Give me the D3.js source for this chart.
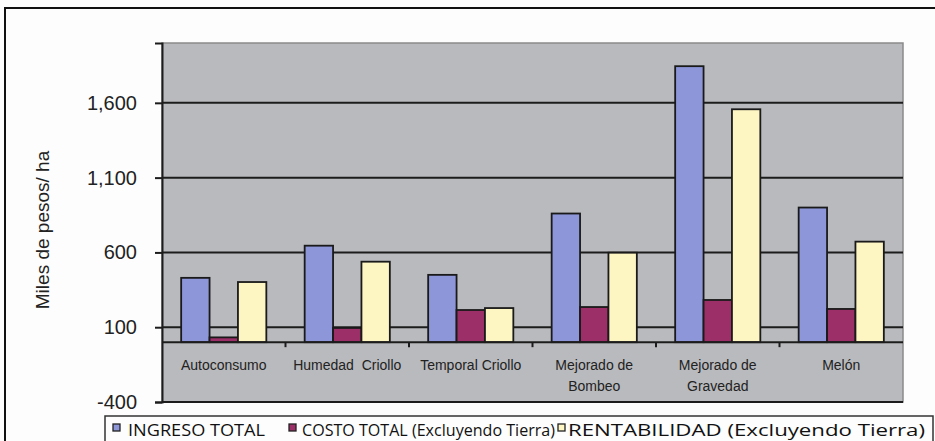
<!DOCTYPE html>
<html lang="es">
<head>
    <meta charset="UTF-8">
    <title>Ingreso, costo y rentabilidad</title>
    <script src="https://d3js.org/d3.v7.min.js"></script>
    <style>
        body {
            margin: 0;
            padding: 0;
            background: #fdfdfd;
            overflow: hidden;
        }
        svg {
            display: block;
        }
        .tick-label {
            font-family: "Liberation Sans", Arial, sans-serif;
            font-size: 20px;
            fill: #222;
        }
        .cat-label {
            font-family: "Liberation Sans", Arial, sans-serif;
            font-size: 14px;
            fill: #222;
        }
        .legend-text {
            font-family: "Open Sans", "DejaVu Sans", sans-serif;
            font-size: 16px;
            fill: #111;
        }
    </style>
</head>
<body>
    <svg id="chart"></svg>

    <script>
        // categories (lines of each label)
        const categories = ["Autoconsumo", "Humedad  Criollo", "Temporal Criollo",
            "Mejorado de Bombeo", "Mejorado de Gravedad", "Melón"];
        const categoryLines = [["Autoconsumo"], ["Humedad  Criollo"], ["Temporal Criollo"],
            ["Mejorado de", "Bombeo"], ["Mejorado de", "Gravedad"], ["Melón"]];

        const seriesNames = ["INGRESO TOTAL", "COSTO TOTAL (Excluyendo Tierra)", "RENTABILIDAD (Excluyendo Tierra)"];
        const ingreso = [430, 645, 450, 860, 1845, 900];
        const costo = [32, 95, 215, 235, 282, 222];
        const rentabilidad = [402, 538, 228, 598, 1557, 672];
        const yTicks = [-400, 100, 600, 1100, 1600];

        const seriesColors = ["#8c96d8", "#9c2f68", "#fdf5c2"];
        const seriesValues = [ingreso, costo, rentabilidad];

        const width = 935, height = 441;
        const plot = { left: 162, right: 903, top: 43, bottom: 402 };

        const svg = d3.select("#chart")
            .attr("width", width)
            .attr("height", height);

        // outer frame
        svg.append("rect")
            .attr("x", 5).attr("y", 8)
            .attr("width", 940).attr("height", 450)
            .attr("fill", "#fdfdfd")
            .attr("stroke", "#111")
            .attr("stroke-width", 2);

        const x = d3.scaleBand()
            .domain(categories)
            .range([plot.left, plot.right]);

        const groupWidth = x.bandwidth() / 1.45;
        const xInner = d3.scaleBand()
            .domain(d3.range(seriesNames.length))
            .range([0, groupWidth]);

        const y = d3.scaleLinear()
            .domain([-400, 2000])
            .range([plot.bottom, plot.top]);

        // plot area
        svg.append("rect")
            .attr("x", plot.left).attr("y", plot.top)
            .attr("width", plot.right - plot.left)
            .attr("height", plot.bottom - plot.top)
            .attr("fill", "#b9babd")
            .attr("stroke", "#8a8a8a")
            .attr("stroke-width", 1.5);

        // gridlines
        svg.append("g")
            .selectAll("line")
            .data(yTicks)
            .enter().append("line")
            .attr("x1", plot.left).attr("x2", plot.right)
            .attr("y1", d => y(d)).attr("y2", d => y(d))
            .attr("stroke", "#1c1c1c")
            .attr("stroke-width", 2);

        // y axis (plain hyphen for negatives, like the original)
        const fmt = d3.format(",");
        const yAxis = svg.append("g")
            .attr("transform", `translate(${plot.left},0)`)
            .call(d3.axisLeft(y).tickValues(yTicks).tickSize(7).tickPadding(18)
                .tickFormat(d => fmt(d).replace("\u2212", "-")));
        yAxis.select(".domain").attr("stroke", "#1c1c1c").attr("stroke-width", 2);
        yAxis.selectAll(".tick line").attr("stroke", "#1c1c1c").attr("stroke-width", 2);
        yAxis.selectAll(".tick text")
            .attr("class", "tick-label")
            .attr("font-family", null)
            .attr("font-size", null);

        // y title
        svg.append("text")
            .attr("class", "tick-label")
            .attr("transform", `translate(49,230) rotate(-90)`)
            .attr("text-anchor", "middle")
            .style("font-size", "19px")
            .text("Miles de pesos/ ha");

        // bars
        const groups = svg.append("g")
            .selectAll("g")
            .data(categories)
            .enter().append("g")
            .attr("transform", d => `translate(${x(d) + (x.bandwidth() - groupWidth) / 2},0)`);

        groups.selectAll("rect")
            .data((d, i) => seriesValues.map((vals, s) => ({ s: s, v: vals[i] })))
            .enter().append("rect")
            .attr("x", d => xInner(d.s))
            .attr("width", xInner.bandwidth())
            .attr("y", d => y(Math.max(0, d.v)))
            .attr("height", d => Math.abs(y(d.v) - y(0)))
            .attr("fill", d => seriesColors[d.s])
            .attr("stroke", "#1a1a1a")
            .attr("stroke-width", 1.8);

        // category axis at zero
        svg.append("line")
            .attr("x1", plot.left).attr("x2", plot.right)
            .attr("y1", y(0)).attr("y2", y(0))
            .attr("stroke", "#1c1c1c")
            .attr("stroke-width", 2);

        svg.append("g")
            .selectAll("line")
            .data(categories.slice(1))
            .enter().append("line")
            .attr("x1", d => x(d)).attr("x2", d => x(d))
            .attr("y1", y(0)).attr("y2", y(0) + 5)
            .attr("stroke", "#1c1c1c")
            .attr("stroke-width", 2);

        const catLabels = svg.append("g")
            .selectAll("text")
            .data(categories)
            .enter().append("text")
            .attr("class", "cat-label")
            .attr("text-anchor", "middle")
            .attr("x", d => x(d) + x.bandwidth() / 2)
            .attr("y", y(0) + 28)
            .attr("xml:space", "preserve");

        catLabels.selectAll("tspan")
            .data((d, i) => categoryLines[i])
            .enter().append("tspan")
            .attr("x", function () { return d3.select(this.parentNode).attr("x"); })
            .attr("dy", (d, i) => i === 0 ? 0 : 21)
            .text(d => d);

        // legend
        const legendX = [113, 289, 558];
        const legendTextX = [128, 302, 568];
        const legendTextW = [137, 253, 357];

        svg.append("rect")
            .attr("x", 105).attr("y", 416)
            .attr("width", 828).attr("height", 40)
            .attr("fill", "#fdfdfd")
            .attr("stroke", "#333")
            .attr("stroke-width", 1.5);

        const legend = svg.append("g")
            .selectAll("g")
            .data(seriesNames)
            .enter().append("g");

        legend.append("rect")
            .attr("x", (d, i) => legendX[i])
            .attr("y", 424)
            .attr("width", 7).attr("height", 7)
            .attr("fill", (d, i) => seriesColors[i])
            .attr("stroke", "#222")
            .attr("stroke-width", 1.3);

        legend.append("text")
            .attr("class", "legend-text")
            .attr("x", (d, i) => legendTextX[i])
            .attr("y", 436)
            .attr("textLength", (d, i) => legendTextW[i])
            .attr("lengthAdjust", "spacingAndGlyphs")
            .text(d => d);
    </script>
</body>
</html>
